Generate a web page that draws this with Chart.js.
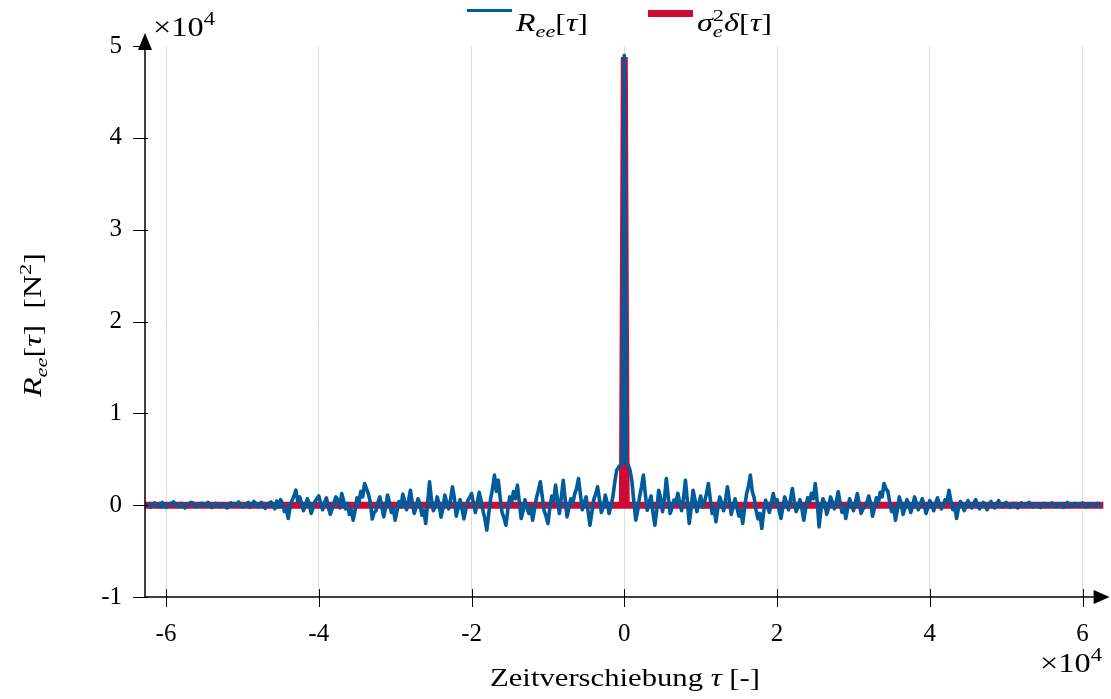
<!DOCTYPE html>
<html>
<head>
<meta charset="utf-8">
<script src="https://cdn.jsdelivr.net/npm/chart.js@4.4.1/dist/chart.umd.min.js"></script>
<style>
  html, body { margin: 0; padding: 0; background: #fff; }
  #wrap { width: 1111px; height: 699px; position: relative; }
</style>
</head>
<body>
<div id="wrap"><canvas id="chart"></canvas></div>
<script>
/* global Chart */

// lag grid of the estimated autocorrelation
const LAG_START = -62500;
const LAG_STEP = 250;

// R_ee[tau] (N^2)
const reeValues = [
  100, 0, -200, 50, 250, 100, -100, -200, 300, 50, -250, -100, 150, 200, 350, 0, -150, -50, 200, 0,
  -300, -50, 100, 300, 250, -50, -200, 0, 150, 200, -100, 50, 300, 100, -250, -50, 200, 100, -150, 0,
  100, -100, -300, 0, 250, 150, -100, 100, 350, 50, -200, -50, 150, 300, -250, 0, 400, 200, -150, 100,
  300, -100, -350, 0, 200, 350, -100, -400, 450, -200, 600, 200, -700, -300, -1450, -200, 500, 1000, 1640, 400,
  900, 200, -600, -100, 700, 200, -900, -300, 400, 700, 1000, 200, -500, 300, 800, -200, -1000, -400, 300, 900,
  600, -300, 1270, 500, -400, 200, -1000, -500, -1640, -600, 800, 200, 1500, 900, 2360, 1800, 1200, 300, -1500, -800,
  -600, 300, 900, -200, -1270, -300, 1100, 300, -800, -400, -1630, -600, 400, -200, 1200, 400, -500, 500, 1630, 200,
  -900, -200, 700, 100, -1100, -600, -2000, 200, 2540, 600, -600, -200, 900, 200, -1300, -400, 1100, 300, -400, 600,
  2000, 800, -1200, -300, 600, -400, -1500, -500, 500, 800, 1270, 200, -800, 300, 1400, 500, -600, -1500, -2720, -900,
  700, 1800, 3270, 1500, 2720, 800, -800, -1400, -2180, -500, 900, 300, 1500, 700, 2180, 400, -1450, -600, 600, -300,
  -900, -200, -1630, -400, 800, 1600, 2540, 1000, -600, -1200, -2000, -300, 1000, 400, 2180, 600, -900, 800, 2720, 700,
  -1270, -300, 700, 200, 1200, 1800, 2900, 1200, -500, 300, 900, -600, -2180, -800, 600, 1200, 2000, 600, -800, -200,
  1100, 300, -900, -100, 900, 2500, 3800, 4100, 4400, 4600, 49000, 4600, 4400, 3800, 2600, 300, -1630, -600, 900, 2000,
  3270, 1200, -550, 300, 1000, -800, -2180, -500, 1630, 800, -700, 600, 2900, 900, -900, -300, 550, 200, 1300, 300,
  -600, 800, 2720, 500, -2000, -300, 1630, 600, -700, 200, 1000, -200, 400, 1200, 2360, 700, -900, -400, -1800, -300,
  900, 200, -600, 600, 2000, 500, -1000, -200, 700, -300, -1200, -500, -2000, -300, 1200, 2000, 3270, 1500, 800, -600,
  -1500, -900, -2540, -700, 550, -200, -800, 300, 1270, 200, 600, -500, -1450, -300, 900, 200, -500, 600, 1800, 400,
  -700, -100, 600, -400, -1630, -300, 800, 300, 1300, 700, 2360, 400, -2360, -500, 700, 200, -1000, -300, 900, 300,
  -400, 400, 1450, 300, -800, -200, -1450, -300, 700, 100, -600, 300, 1270, 200, -900, -400, -200, 300, 1000, 200,
  -1200, -300, 800, 200, 1400, 900, 2360, 1800, 1500, 300, -700, -200, -1630, -500, 900, 200, -1000, -300, 600, 100,
  -800, -100, 900, 200, -500, 100, 700, 100, -900, -200, 500, 0, -600, 200, 800, 100, -400, 0, 600, 300,
  1630, 500, -500, -100, -1450, -300, 400, 0, -600, -100, 500, 0, -300, 200, 600, 0, -400, 100, 300, -100,
  -500, 0, 400, 0, -300, 100, 500, 0, -200, 100, 300, -50, -250, 50, 200, 0, -300, 0, 250, 0,
  -150, 100, 300, 0, -200, 50, 150, -50, -250, 0, 200, 0, -100, 100, 250, 0, -200, 0, 150, 50,
  -250, 0, 300, 50, -150, 0, 200, 0, -100, 100, 250, 0, -200, 0, 150, 50, -100, 50, 200, 0,
  -150
];

// sigma_e^2 * delta[tau]
const deltaLags = [-62750, -250, 0, 250, 62750];
const deltaValues = [0, 0, 48800, 0, 0];

const xTicks = [-60000, -40000, -20000, 0, 20000, 40000, 60000];
const yTicks = [-10000, 0, 10000, 20000, 30000, 40000, 50000];
const X_MIN = -62750;
const X_MAX = 62750;
const Y_MIN = -10000;
const Y_MAX = 50000;

const BLUE = '#005b9b';
const RED = '#cf0a35';
const FONT = '"Liberation Serif", "DejaVu Serif", serif';

const reeData = reeValues.map((v, i) => ({ x: LAG_START + i * LAG_STEP, y: v }));
const deltaData = deltaLags.map((l, i) => ({ x: l, y: deltaValues[i] }));

// text with italics, sub- and superscripts
const runText = (ctx, parts, x, y, size, draw) => {
  let cx = x;
  for (const p of parts) {
    const fs = p.s ? size * 0.7 : size;
    ctx.font = (p.i ? 'italic ' : '') + fs + 'px ' + FONT;
    const dy = p.s === 'sub' ? size * 0.24 : p.s === 'sup' ? -size * 0.42 : 0;
    if (draw) ctx.fillText(p.t, cx, y + dy);
    if (!p.keep) cx += ctx.measureText(p.t).width;
  }
  return cx - x;
};

const drawText = (ctx, parts, x, y, size, width, align) => {
  const w = runText(ctx, parts, 0, 0, size, false);
  const sx = width ? width / w : 1;
  const tw = w * sx;
  ctx.save();
  ctx.translate(align === 'center' ? x - tw / 2 : x, y);
  ctx.scale(sx, 1);
  runText(ctx, parts, 0, 0, size, true);
  ctx.restore();
};

const decor = {
  id: 'decor',
  afterDraw(chart) {
    const { ctx, chartArea: a, scales: { x, y } } = chart;
    ctx.save();
    ctx.fillStyle = '#000';
    ctx.strokeStyle = '#000';
    ctx.textBaseline = 'alphabetic';
    ctx.textAlign = 'left';

    // axes
    ctx.lineWidth = 1.5;
    ctx.beginPath();
    ctx.moveTo(a.left, a.bottom);
    ctx.lineTo(a.left, a.top - 4);
    ctx.moveTo(a.left, a.bottom);
    ctx.lineTo(a.right, a.bottom);
    ctx.stroke();
    // arrow heads
    ctx.beginPath();
    ctx.moveTo(a.left, a.top - 13);
    ctx.lineTo(a.left - 7, a.top + 4);
    ctx.lineTo(a.left + 7, a.top + 4);
    ctx.closePath();
    ctx.fill();
    ctx.beginPath();
    ctx.moveTo(a.right + 6, a.bottom);
    ctx.lineTo(a.right - 10, a.bottom - 7);
    ctx.lineTo(a.right - 10, a.bottom + 7);
    ctx.closePath();
    ctx.fill();

    // ticks
    ctx.lineWidth = 1;
    ctx.beginPath();
    xTicks.forEach(v => {
      const px = Math.round(x.getPixelForValue(v)) + 0.5;
      ctx.moveTo(px, a.bottom - 8);
      ctx.lineTo(px, a.bottom + 10);
    });
    yTicks.forEach(v => {
      const py = Math.round(y.getPixelForValue(v)) + 0.5;
      ctx.moveTo(a.left - 12, py);
      ctx.lineTo(a.left + 3, py);
    });
    ctx.stroke();

    // exponent notes
    const exp = [{ t: '×10' }, { t: '4', s: 'sup' }];
    drawText(ctx, exp, 153, 36, 27, 62);
    drawText(ctx, exp, 1040, 672, 27, 62);

    // axis titles
    drawText(ctx, [{ t: 'Zeitverschiebung ' }, { t: 'τ', i: true }, { t: ' [-]' }], 625, 686, 25, 270, 'center');
    ctx.save();
    ctx.translate(41, 325);
    ctx.rotate(-Math.PI / 2);
    drawText(ctx, [{ t: 'R', i: true }, { t: 'ee', i: true, s: 'sub' }, { t: '[' }, { t: 'τ', i: true },
      { t: ']  [N' }, { t: '2', s: 'sup' }, { t: ']' }], 0, 0, 25, 144, 'center');
    ctx.restore();

    // legend
    ctx.lineWidth = 3;
    ctx.strokeStyle = BLUE;
    ctx.beginPath();
    ctx.moveTo(467, 10.5);
    ctx.lineTo(512, 10.5);
    ctx.stroke();
    drawText(ctx, [{ t: 'R', i: true }, { t: 'ee', i: true, s: 'sub' }, { t: '[' }, { t: 'τ', i: true }, { t: ']' }],
      516, 31, 25, 72);
    ctx.fillStyle = RED;
    ctx.fillRect(648, 10, 45, 7);
    ctx.fillStyle = '#000';
    drawText(ctx, [{ t: 'σ', i: true }, { t: 'e', i: true, s: 'sub', keep: true }, { t: '2', s: 'sup' },
      { t: 'δ', i: true }, { t: '[' }, { t: 'τ', i: true }, { t: ']' }], 697, 31, 25, 75);

    ctx.restore();
  }
};

new Chart(document.getElementById('chart').getContext('2d'), {
  type: 'line',
  data: {
    datasets: [{
      label: 'R_ee[τ]',
      data: reeData,
      borderColor: BLUE,
      borderWidth: 3.6,
      borderJoinStyle: 'round',
      pointRadius: 0,
      tension: 0,
      order: 1
    }, {
      label: 'σ_e²δ[τ]',
      data: deltaData,
      borderColor: RED,
      borderWidth: 7,
      borderJoinStyle: 'miter',
      pointRadius: 0,
      tension: 0,
      order: 2
    }]
  },
  options: {
    responsive: true,
    maintainAspectRatio: false,
    animation: false,
    parsing: false,
    layout: { padding: { top: 46, right: 6, left: 0, bottom: 0 } },
    plugins: { legend: { display: false }, tooltip: { enabled: false } },
    scales: {
      x: {
        type: 'linear',
        min: X_MIN,
        max: X_MAX,
        afterBuildTicks: s => { s.ticks = xTicks.map(v => ({ value: v })); },
        afterFit: s => { s.height = 102; },
        grid: { color: '#dedede', lineWidth: 1, drawTicks: false },
        border: { display: false },
        ticks: {
          color: '#000',
          padding: 22,
          maxRotation: 0,
          font: { family: FONT, size: 25 },
          callback: v => String(v / 10000)
        }
      },
      y: {
        type: 'linear',
        min: Y_MIN,
        max: Y_MAX,
        afterBuildTicks: s => { s.ticks = yTicks.map(v => ({ value: v })); },
        afterFit: s => { s.width = 145; },
        grid: { display: false, drawTicks: false },
        border: { display: false },
        ticks: {
          color: '#000',
          padding: 23,
          font: { family: FONT, size: 25 },
          callback: v => String(v / 10000)
        }
      }
    }
  },
  plugins: [decor]
});
</script>
</body>
</html>
